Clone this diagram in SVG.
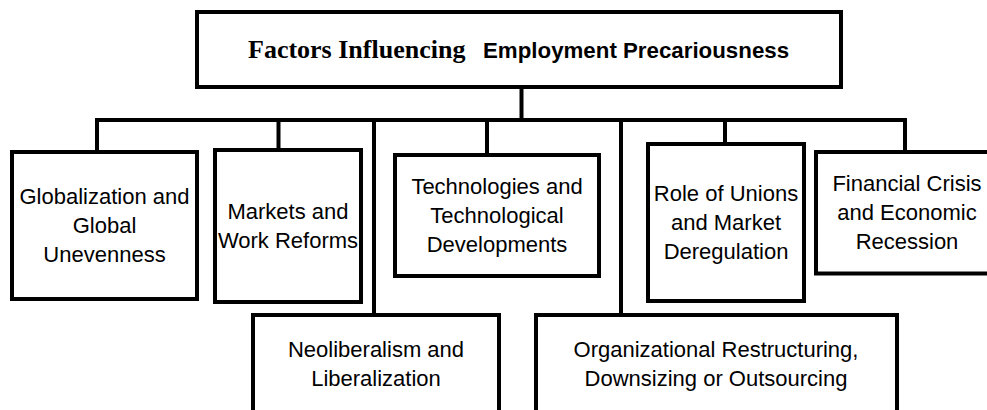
<svg xmlns="http://www.w3.org/2000/svg" width="987" height="410" viewBox="0 0 987 410">
<style>
.box{fill:#fff;stroke:#000;stroke-width:4}
.con{fill:none;stroke:#000;stroke-width:4;stroke-linejoin:miter}
.lbl{font-family:"Liberation Sans",Arial,sans-serif;font-size:22px;fill:#000;text-anchor:middle}
</style>
<rect width="987" height="410" fill="#fff"/>
<g id="connectors">
<path class="con" d="M521.5,89 V120"/>
<path class="con" d="M97,152 V120 H905 V152"/>
<path class="con" d="M278.5,120 V150"/>
<path class="con" d="M374,120 V315"/>
<path class="con" d="M487,120 V155"/>
<path class="con" d="M621,120 V315"/>
<path class="con" d="M725,120 V144"/>
</g>
<g id="title">
<rect class="box" x="197" y="12" width="644" height="75"/>
<text x="248" y="58" font-weight="bold" fill="#000"><tspan font-family="'Liberation Serif','Times New Roman',serif" font-size="26">Factors Influencing </tspan><tspan x="483" font-family="'Liberation Sans',Arial,sans-serif" font-size="22.3">Employment Precariousness</tspan></text>
</g>
<g id="globalization">
<rect class="box" x="12" y="152" width="185" height="147"/>
<text class="lbl" x="104.5" y="204">Globalization and</text>
<text class="lbl" x="104.5" y="233">Global</text>
<text class="lbl" x="104.5" y="262">Unevenness</text>
</g>
<g id="markets">
<rect class="box" x="215" y="150" width="146" height="152"/>
<text class="lbl" x="288" y="219">Markets and</text>
<text class="lbl" x="288" y="248">Work Reforms</text>
</g>
<g id="technologies">
<rect class="box" x="395" y="155" width="204" height="121"/>
<text class="lbl" x="497" y="194">Technologies and</text>
<text class="lbl" x="497" y="223">Technological</text>
<text class="lbl" x="497" y="252">Developments</text>
</g>
<g id="neoliberalism">
<rect class="box" x="253" y="315" width="246" height="110"/>
<text class="lbl" x="376" y="357">Neoliberalism and</text>
<text class="lbl" x="376" y="386">Liberalization</text>
</g>
<g id="organizational">
<rect class="box" x="536" y="315" width="361" height="110"/>
<text class="lbl" x="716" y="357">Organizational Restructuring,</text>
<text class="lbl" x="716" y="386">Downsizing or Outsourcing</text>
</g>
<g id="unions">
<rect class="box" x="648" y="144" width="156" height="157"/>
<text class="lbl" x="726" y="201">Role of Unions</text>
<text class="lbl" x="726" y="230">and Market</text>
<text class="lbl" x="726" y="259">Deregulation</text>
</g>
<g id="financial">
<rect class="box" x="816" y="152" width="182" height="121.5"/>
<text class="lbl" x="907" y="191">Financial Crisis</text>
<text class="lbl" x="907" y="220">and Economic</text>
<text class="lbl" x="907" y="249">Recession</text>
</g>
</svg>
